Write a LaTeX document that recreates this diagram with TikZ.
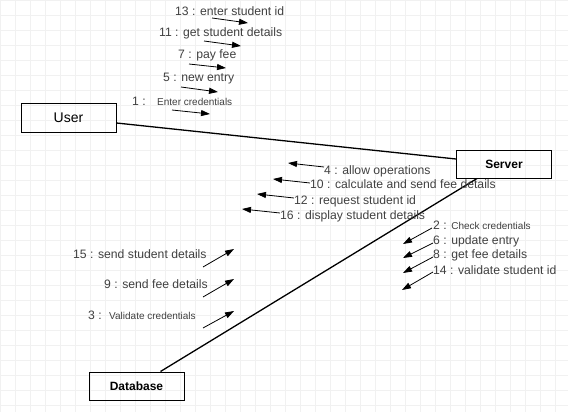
\documentclass[tikz,border=0pt]{standalone}
\usepackage{fontspec}
\setmainfont{Liberation Sans}
\definecolor{msggray}{RGB}{64, 64, 64}
\definecolor{gridgray}{RGB}{241, 241, 241}
\usetikzlibrary{arrows.meta, positioning, calc}

\begin{document}
\begin{tikzpicture}[
  x=1pt, y=-1pt,
  box/.style={draw, line width=1pt, minimum width=95pt, minimum height=28pt, inner sep=2pt},
  msg/.style={anchor=west, inner sep=0pt, text=msggray, font=\fontsize{12.2}{14}\selectfont},
  small/.style={msg, font=\fontsize{10}{12}\selectfont},
  link/.style={line width=1.3pt},
  arr/.style={-{Triangle[length=9pt, width=6pt]}, line width=0.8pt}
]
  \useasboundingbox (0,0) rectangle (568,412);
  \draw[gridgray, step=15pt] (0,0) grid (568,412);

  % Objects
  \node[box, font=\fontsize{14}{16}\selectfont] (user) at (68.5,118) {User};
  \node[box, font=\bfseries\fontsize{12}{14}\selectfont] (server) at (504,164) {Server};
  \node[box, font=\bfseries\fontsize{12}{14}\selectfont] (db) at (136.5,386) {Database};

  \draw[link] ([yshift=-5pt]user.east) -- ([yshift=5pt]server.west);
  \draw[link] ([xshift=-27pt]server.south) -- ([xshift=24pt]db.north);

  % User -> Server
  \node[msg] (m13) at (175,11) {13 : enter student id};
  \node[msg] (m11) at (159,33) {11 : get student details};
  \node[msg] (m7) at (178,55) {7 : pay fee};
  \node[msg] (m5) at (163,79) {5 : new entry};
  \node[msg] (m1) at (132,101) {1 :};
  \node[small] (m1t) at (157,102) {Enter credentials};

  \coordinate (a13s) at (212,18);  \coordinate (a13e) at (248,23);
  \coordinate (a11s) at (204,41);  \coordinate (a11e) at (241,46);
  \coordinate (a7s) at (189,64);   \coordinate (a7e) at (226,68);
  \coordinate (a5s) at (181,87);   \coordinate (a5e) at (218,92);
  \coordinate (a1s) at (172,110);  \coordinate (a1e) at (210,114);

  \draw[arr] (a13s) -- (a13e);
  \draw[arr] (a11s) -- (a11e);
  \draw[arr] (a7s) -- (a7e);
  \draw[arr] (a5s) -- (a5e);
  \draw[arr] (a1s) -- (a1e);

  % Server -> User
  \node[msg] (m4) at (324,171) {4 : allow operations};
  \node[msg] (m10) at (310,184) {10 : calculate and send fee details};
  \node[msg] (m12) at (294,201) {12 : request student id};
  \node[msg] (m16) at (280,216) {16 : display student details};

  \coordinate (a4s) at (324,167);  \coordinate (a4e) at (288,163);
  \coordinate (a10s) at (310,183); \coordinate (a10e) at (273,179);
  \coordinate (a12s) at (294,198); \coordinate (a12e) at (257,194);
  \coordinate (a16s) at (280,213); \coordinate (a16e) at (242,209);

  \draw[arr] (a4s) -- (a4e);
  \draw[arr] (a10s) -- (a10e);
  \draw[arr] (a12s) -- (a12e);
  \draw[arr] (a16s) -- (a16e);

  % Server -> Database
  \node[msg] (m2) at (433,225) {2 : {\fontsize{10}{12}\selectfont Check credentials}};
  \node[msg] (m6) at (433,241) {6 : update entry};
  \node[msg] (m8) at (433,255) {8 : get fee details};
  \node[msg] (m14) at (433,270) {14 : validate student id};

  \coordinate (a2s) at (432,228);  \coordinate (a2e) at (403,244);
  \coordinate (a6s) at (433,243);  \coordinate (a6e) at (403,258);
  \coordinate (a8s) at (433,257);  \coordinate (a8e) at (403,273);
  \coordinate (a14s) at (433,272); \coordinate (a14e) at (402,290);

  \draw[arr] (a2s) -- (a2e);
  \draw[arr] (a6s) -- (a6e);
  \draw[arr] (a8s) -- (a8e);
  \draw[arr] (a14s) -- (a14e);

  % Database -> Server
  \node[msg] (m15) at (73,254) {15 : send student details};
  \node[msg] (m9) at (104,284) {9 : send fee details};
  \node[msg] (m3) at (88,315) {3 :};
  \node[small] (m3t) at (109,316) {Validate credentials};

  \coordinate (a15s) at (203,267); \coordinate (a15e) at (234,249);
  \coordinate (a9s) at (203,297);  \coordinate (a9e) at (234,279);
  \coordinate (a3s) at (203,328);  \coordinate (a3e) at (234,311);

  \draw[arr] (a15s) -- (a15e);
  \draw[arr] (a9s) -- (a9e);
  \draw[arr] (a3s) -- (a3e);
\end{tikzpicture}
\end{document}
